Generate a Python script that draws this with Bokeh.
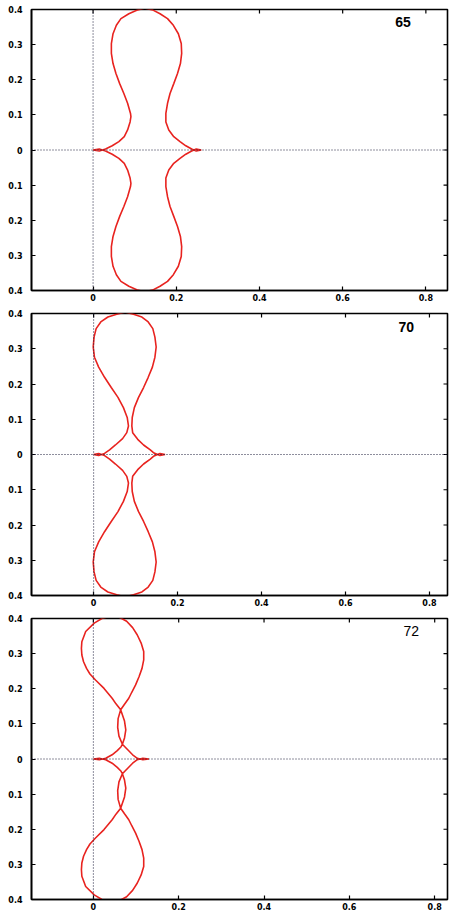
from bokeh.plotting import figure
from bokeh.layouts import column
from bokeh.models import FixedTicker, Span, Label, Range1d
from bokeh.embed import file_html
from bokeh.resources import INLINE

# ---- tick values / labels ----
x_ticks = [0, 0.2, 0.4, 0.6, 0.8]
x_tick_labels = ["0", "0.2", "0.4", "0.6", "0.8"]
y_ticks = [-0.4, -0.3, -0.2, -0.1, 0, 0.1, 0.2, 0.3, 0.4]
y_tick_labels = ["0.4", "0.3", "0.2", "0.1", "0", "0.1", "0.2", "0.3", "0.4"]

panel_labels = ["65", "70", "72"]

# ---- upper half of each curve (left cusp -> right cusp); lower half is its mirror ----
p65_x = [0.0, 0.015, 0.030, 0.046, 0.062, 0.075, 0.083, 0.089, 0.091, 0.090, 0.083, 0.074,
         0.064, 0.055, 0.048, 0.044, 0.044, 0.048, 0.056, 0.067, 0.086, 0.105, 0.124,
         0.143, 0.161, 0.179, 0.193, 0.205, 0.212, 0.213, 0.210, 0.203, 0.194, 0.185,
         0.179, 0.175, 0.175, 0.182, 0.194, 0.209, 0.223, 0.237, 0.248, 0.260]
p65_y = [0.0, -0.003, 0.003, 0.012, 0.024, 0.038, 0.057, 0.080, 0.095, 0.104, 0.133, 0.161,
         0.189, 0.218, 0.246, 0.275, 0.303, 0.331, 0.355, 0.374, 0.388, 0.398, 0.404,
         0.399, 0.388, 0.374, 0.355, 0.331, 0.303, 0.275, 0.246, 0.218, 0.189, 0.161,
         0.133, 0.104, 0.080, 0.057, 0.038, 0.024, 0.012, 0.003, -0.003, 0.0]

p70_x = [0.0, 0.012, 0.026, 0.038, 0.052, 0.069, 0.079, 0.083, 0.080, 0.071, 0.058, 0.042,
         0.026, 0.012, 0.002, -0.001, 0.001, 0.006, 0.017, 0.034, 0.055, 0.075, 0.095,
         0.115, 0.130, 0.141, 0.146, 0.149, 0.146, 0.140, 0.130, 0.119, 0.107, 0.097,
         0.092, 0.091, 0.093, 0.105, 0.119, 0.135, 0.144, 0.158, 0.170]
p70_y = [0.0, -0.003, 0.003, 0.013, 0.027, 0.045, 0.062, 0.081, 0.105, 0.133, 0.162, 0.190,
         0.219, 0.248, 0.276, 0.305, 0.333, 0.357, 0.376, 0.390, 0.398, 0.404, 0.398,
         0.390, 0.376, 0.357, 0.333, 0.305, 0.276, 0.248, 0.219, 0.190, 0.162, 0.133,
         0.105, 0.081, 0.062, 0.043, 0.027, 0.013, 0.004, -0.003, 0.0]

p72_x = [0.0, 0.014, 0.029, 0.044, 0.056, 0.065, 0.068, 0.073, 0.076, 0.073, 0.064,
         0.053, 0.044, 0.025, 0.005, -0.008, -0.016, -0.023, -0.027, -0.028, -0.027,
         -0.018, 0.002, 0.020, 0.040, 0.060, 0.078, 0.092, 0.103, 0.112, 0.118, 0.118,
         0.114, 0.107, 0.099, 0.090, 0.083, 0.073, 0.064, 0.058, 0.057, 0.060, 0.068,
         0.080, 0.092, 0.103, 0.116, 0.130]
p72_y = [0.0, -0.002, 0.002, 0.012, 0.024, 0.035, 0.042, 0.060, 0.083, 0.108, 0.140,
         0.157, 0.173, 0.201, 0.225, 0.242, 0.258, 0.277, 0.296, 0.315, 0.334,
         0.363, 0.387, 0.400, 0.407, 0.404, 0.392, 0.374, 0.353, 0.330, 0.306, 0.282,
         0.258, 0.234, 0.211, 0.190, 0.173, 0.156, 0.140, 0.115, 0.090, 0.065, 0.042,
         0.027, 0.012, 0.002, -0.002, 0.0]

curves = [(p65_x, p65_y), (p70_x, p70_y), (p72_x, p72_y)]

# layout per panel (style only)
layouts = [
    dict(xr=(-0.148, 0.852), width=449, height=305, left=27, right=2, top=9, bottom=15, bold=True),
    dict(xr=(-0.148, 0.843), width=449, height=305, left=29, right=2, top=8, bottom=15, bold=True),
    dict(xr=(-0.145, 0.830), width=449, height=306, left=31, right=1, top=8, bottom=17, bold=False),
]

TICK_FONT = "DejaVu Sans"
TICK_PX = 4.0


def make_panel(ux, uy, label, lay):
    x0, x1 = lay["xr"]
    y0, y1 = -0.4, 0.4
    p = figure(width=lay["width"], height=lay["height"], output_backend="svg",
               toolbar_location=None,
               x_range=Range1d(x0, x1), y_range=Range1d(y0, y1),
               min_border_left=lay["left"], min_border_right=lay["right"],
               min_border_top=lay["top"], min_border_bottom=lay["bottom"])
    p.background_fill_color = "white"
    p.border_fill_color = "white"
    p.grid.visible = False
    p.outline_line_color = "black"
    p.outline_line_width = 1.6

    xa = p.xaxis[0]
    xa.ticker = FixedTicker(ticks=x_ticks)
    xa.major_label_overrides = {t: s for t, s in zip(x_ticks, x_tick_labels)}
    xa.major_label_standoff = 3
    ya = p.yaxis[0]
    ya.ticker = FixedTicker(ticks=y_ticks)
    ya.major_label_overrides = {t: s for t, s in zip(y_ticks, y_tick_labels)}
    ya.major_label_standoff = 9
    for ax in (xa, ya):
        ax.major_tick_in = int(TICK_PX)
        ax.major_tick_out = 0
        ax.minor_tick_line_color = None
        ax.axis_line_color = "black"
        ax.axis_line_width = 1.6
        ax.major_tick_line_color = "black"
        ax.major_tick_line_width = 1.2
        ax.major_label_text_font = TICK_FONT
        ax.major_label_text_font_style = "bold"
        ax.major_label_text_font_size = "8px"
        ax.major_label_text_color = "black"

    # mirrored inward ticks on top and right edges
    fw = lay["width"] - lay["left"] - lay["right"]
    fh = lay["height"] - lay["top"] - lay["bottom"]
    dy = TICK_PX * (y1 - y0) / fh
    dx = TICK_PX * (x1 - x0) / fw
    p.segment(x0=x_ticks, y0=[y1] * len(x_ticks), x1=x_ticks, y1=[y1 - dy] * len(x_ticks),
              line_color="black", line_width=1.2)
    p.segment(x0=[x1] * len(y_ticks), y0=y_ticks, x1=[x1 - dx] * len(y_ticks), y1=y_ticks,
              line_color="black", line_width=1.2)

    # dotted zero lines
    p.add_layout(Span(location=0, dimension="height", line_color="#1c1c3a",
                      line_width=1, line_dash="1 2"))
    p.add_layout(Span(location=0, dimension="width", line_color="#1c1c3a",
                      line_width=1, line_dash="1 2"))

    xs = list(ux) + list(ux[::-1])
    ys = list(uy) + [-v for v in uy[::-1]]
    p.line(xs, ys, line_color="#e8231f", line_width=1.6)

    p.add_layout(Label(x=0.745, y=0.363, text=label, text_align="center",
                       text_baseline="middle", text_font="Liberation Sans",
                       text_font_size="14px",
                       text_font_style="bold" if lay["bold"] else "normal",
                       text_color="black"))
    return p


panels = [make_panel(cx, cy, lab, lay)
          for (cx, cy), lab, lay in zip(curves, panel_labels, layouts)]

page = column(*panels, spacing=0)
open("out.html", "w").write(file_html(page, INLINE))
